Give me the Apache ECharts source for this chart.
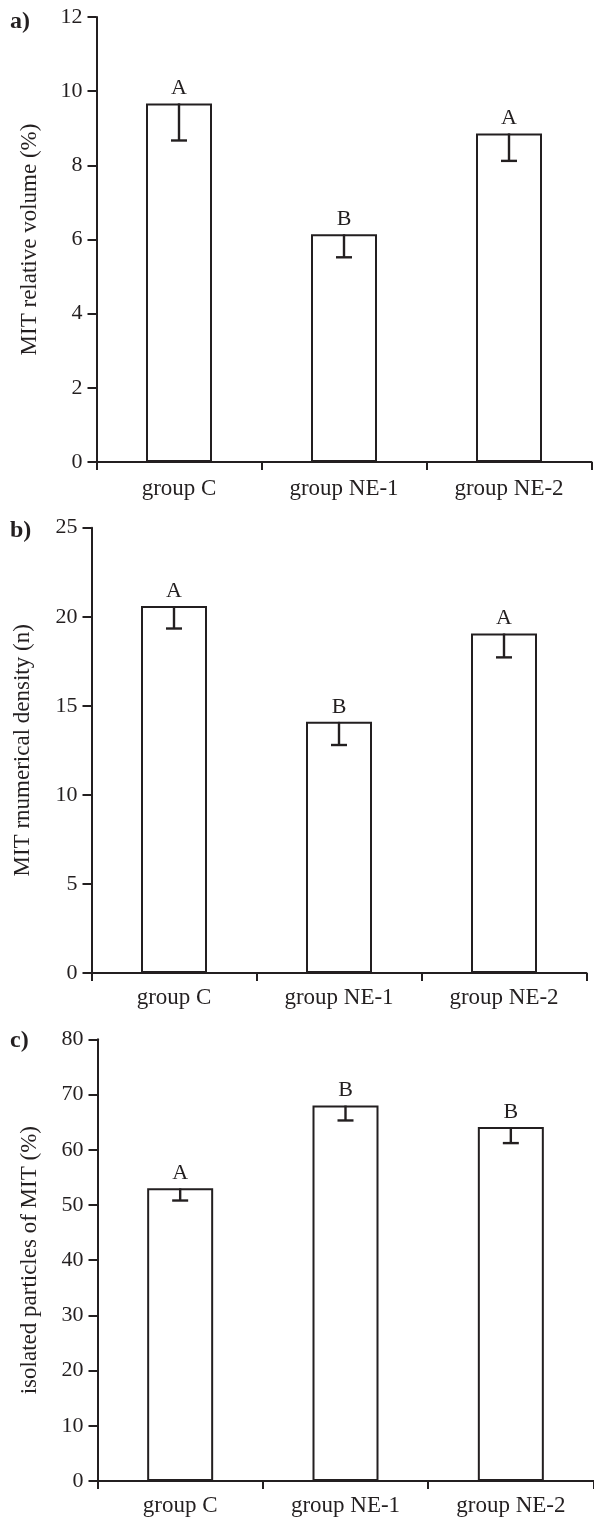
<!DOCTYPE html>
<html>
<head>
<meta charset="utf-8">
<script src="https://cdn.jsdelivr.net/npm/echarts@6/dist/echarts.min.js"></script>
<style>
  html, body { margin: 0; padding: 0; background: #ffffff; }
  #chart { width: 594px; height: 1517px; }
</style>
</head>
<body>
<div id="chart"></div>
<script>
// ---------- data ----------
const categories = ['group C', 'group NE-1', 'group NE-2'];

const volumeMean = [9.67, 6.14, 8.86];
const volumeErr = [1.0, 0.62, 0.74];
const volumeLetters = ['A', 'B', 'A'];

const densityMean = [20.6, 14.1, 19.06];
const densityErr = [1.26, 1.3, 1.34];
const densityLetters = ['A', 'B', 'A'];

const isolatedMean = [53.0, 68.0, 64.1];
const isolatedErr = [2.2, 2.7, 2.9];
const isolatedLetters = ['A', 'B', 'B'];

const volumeTicks = { min: 0, max: 12, interval: 2 };
const densityTicks = { min: 0, max: 25, interval: 5 };
const isolatedTicks = { min: 0, max: 80, interval: 10 };

const panelTitles = ['MIT relative volume (%)', 'MIT rnumerical density (n)', 'isolated particles of MIT (%)'];
const panelTags = ['a)', 'b)', 'c)'];

// ---------- style ----------
const INK = '#231f20';
const FONT = '"Liberation Serif", "Times New Roman", serif';

const grids = [
  { left: 96.5, right: 2.5, top: 17, height: 445 },
  { left: 91.5, right: 7.5, top: 527.7, height: 445.3 },
  { left: 97.5, right: 0.5, top: 1039.3, height: 444 }
];
const nameGaps = [55, 57, 56];
const labelMargins = [15, 13, 13];

const panels = [
  { mean: volumeMean, err: volumeErr, letters: volumeLetters, ticks: volumeTicks },
  { mean: densityMean, err: densityErr, letters: densityLetters, ticks: densityTicks },
  { mean: isolatedMean, err: isolatedErr, letters: isolatedLetters, ticks: isolatedTicks }
];

const xAxes = [], yAxes = [], series = [];
panels.forEach((p, i) => {
  xAxes.push({
    type: 'category', gridIndex: i, data: categories,
    axisLine: { lineStyle: { color: INK, width: 2 } },
    axisTick: { show: true, length: 8, lineStyle: { color: INK, width: 2 } },
    axisLabel: { color: INK, fontFamily: FONT, fontSize: 23, margin: labelMargins[i] }
  });
  yAxes.push({
    type: 'value', gridIndex: i,
    min: p.ticks.min, max: p.ticks.max, interval: p.ticks.interval,
    name: panelTitles[i], nameLocation: 'middle', nameGap: nameGaps[i],
    nameTextStyle: { color: INK, fontFamily: FONT, fontSize: 23 },
    axisLine: { show: true, lineStyle: { color: INK, width: 2 } },
    axisTick: { show: true, length: 9, lineStyle: { color: INK, width: 2 } },
    axisLabel: { color: INK, fontFamily: FONT, fontSize: 22, margin: 14 },
    splitLine: { show: false }
  });
  series.push({
    type: 'bar', xAxisIndex: i, yAxisIndex: i,
    data: p.mean, barWidth: 66,
    itemStyle: { color: '#ffffff', borderColor: INK, borderWidth: 2 },
    label: {
      show: true, position: 'top', distance: 4,
      color: INK, fontFamily: FONT, fontSize: 22,
      formatter: (d) => p.letters[d.dataIndex]
    },
    emphasis: { disabled: true },
    z: 2
  });
  series.push({
    type: 'custom', xAxisIndex: i, yAxisIndex: i,
    data: p.mean.map((m, k) => [k, m, p.err[k]]),
    renderItem: (params, api) => {
      const top = api.coord([api.value(0), api.value(1)]);
      const low = api.coord([api.value(0), api.value(1) - api.value(2)]);
      const hw = 8;
      return {
        type: 'group',
        children: [
          { type: 'line', shape: { x1: top[0], y1: top[1], x2: low[0], y2: low[1] }, style: { stroke: INK, lineWidth: 2.4 } },
          { type: 'line', shape: { x1: low[0] - hw, y1: low[1], x2: low[0] + hw, y2: low[1] }, style: { stroke: INK, lineWidth: 2.4 } }
        ]
      };
    },
    z: 3
  });
});

const tagTops = [10, 519, 1029];
const graphic = panelTags.map((t, i) => ({
  type: 'text', left: 10, top: tagTops[i],
  style: { text: t, fill: INK, font: 'bold 24px ' + FONT }
}));

const chart = echarts.init(document.getElementById('chart'), null, { renderer: 'canvas' });
chart.setOption({
  animation: false,
  backgroundColor: '#ffffff',
  grid: grids,
  xAxis: xAxes,
  yAxis: yAxes,
  series: series,
  graphic: graphic
});
</script>
</body>
</html>
